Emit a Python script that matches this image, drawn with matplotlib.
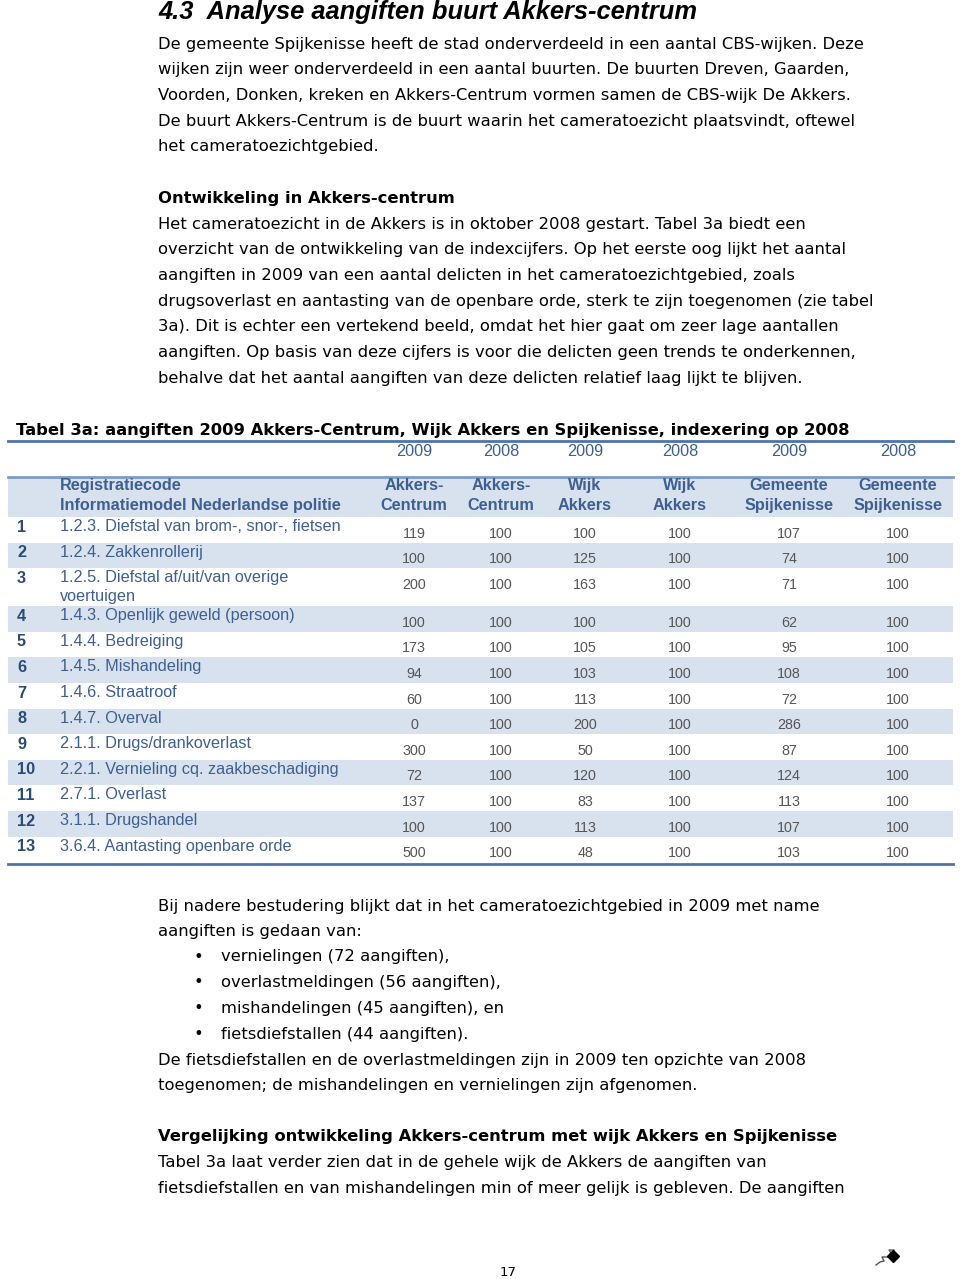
import matplotlib
matplotlib.use("Agg")
import matplotlib.pyplot as plt

# ---- table data (Tabel 3a) ----
row_nrs = ["1", "2", "3", "4", "5", "6", "7", "8", "9", "10", "11", "12", "13"]
row_labels = [
    "1.2.3. Diefstal van brom-, snor-, fietsen",
    "1.2.4. Zakkenrollerij",
    "1.2.5. Diefstal af/uit/van overige\nvoertuigen",
    "1.4.3. Openlijk geweld (persoon)",
    "1.4.4. Bedreiging",
    "1.4.5. Mishandeling",
    "1.4.6. Straatroof",
    "1.4.7. Overval",
    "2.1.1. Drugs/drankoverlast",
    "2.2.1. Vernieling cq. zaakbeschadiging",
    "2.7.1. Overlast",
    "3.1.1. Drugshandel",
    "3.6.4. Aantasting openbare orde",
]
years = ["2009", "2008", "2009", "2008", "2009", "2008"]
col_heads = ["Akkers-\nCentrum", "Akkers-\nCentrum", "Wijk\nAkkers", "Wijk\nAkkers",
             "Gemeente\nSpijkenisse", "Gemeente\nSpijkenisse"]
akkers_c_2009 = [119, 100, 200, 100, 173, 94, 60, 0, 300, 72, 137, 100, 500]
akkers_c_2008 = [100] * 13
wijk_2009 = [100, 125, 163, 100, 105, 103, 113, 200, 50, 120, 83, 113, 48]
wijk_2008 = [100] * 13
spijk_2009 = [107, 74, 71, 62, 95, 108, 72, 286, 87, 124, 113, 107, 103]
spijk_2008 = [100] * 13
columns = [akkers_c_2009, akkers_c_2008, wijk_2009, wijk_2008, spijk_2009, spijk_2008]

# ---- page text ----
title = "4.3  Analyse aangiften buurt Akkers-centrum"
para1 = [
    "De gemeente Spijkenisse heeft de stad onderverdeeld in een aantal CBS-wijken. Deze",
    "wijken zijn weer onderverdeeld in een aantal buurten. De buurten Dreven, Gaarden,",
    "Voorden, Donken, kreken en Akkers-Centrum vormen samen de CBS-wijk De Akkers.",
    "De buurt Akkers-Centrum is de buurt waarin het cameratoezicht plaatsvindt, oftewel",
    "het cameratoezichtgebied.",
]
head2 = "Ontwikkeling in Akkers-centrum"
para2 = [
    "Het cameratoezicht in de Akkers is in oktober 2008 gestart. Tabel 3a biedt een",
    "overzicht van de ontwikkeling van de indexcijfers. Op het eerste oog lijkt het aantal",
    "aangiften in 2009 van een aantal delicten in het cameratoezichtgebied, zoals",
    "drugsoverlast en aantasting van de openbare orde, sterk te zijn toegenomen (zie tabel",
    "3a). Dit is echter een vertekend beeld, omdat het hier gaat om zeer lage aantallen",
    "aangiften. Op basis van deze cijfers is voor die delicten geen trends te onderkennen,",
    "behalve dat het aantal aangiften van deze delicten relatief laag lijkt te blijven.",
]
table_title = "Tabel 3a: aangiften 2009 Akkers-Centrum, Wijk Akkers en Spijkenisse, indexering op 2008"
para3 = [
    "Bij nadere bestudering blijkt dat in het cameratoezichtgebied in 2009 met name",
    "aangiften is gedaan van:",
]
bullets = [
    "vernielingen (72 aangiften),",
    "overlastmeldingen (56 aangiften),",
    "mishandelingen (45 aangiften), en",
    "fietsdiefstallen (44 aangiften).",
]
para4 = [
    "De fietsdiefstallen en de overlastmeldingen zijn in 2009 ten opzichte van 2008",
    "toegenomen; de mishandelingen en vernielingen zijn afgenomen.",
]
head3 = "Vergelijking ontwikkeling Akkers-centrum met wijk Akkers en Spijkenisse"
para5 = [
    "Tabel 3a laat verder zien dat in de gehele wijk de Akkers de aangiften van",
    "fietsdiefstallen en van mishandelingen min of meer gelijk is gebleven. De aangiften",
]

BODY = "DejaVu Sans"
TAB = "Liberation Sans"
BLUE_TXT = "#3d5f91"
BLUE_NR = "#2c4a78"
NUM_C = "#555555"
BAND = "#d8e1ee"
LINE_C = "#4f73a8"
BS = 11.8
LH = 25.7
TS = 11.7

fig = plt.figure(figsize=(9.6, 12.79), dpi=100)
ax = fig.add_axes([0, 0, 1, 1])
ax.set_xlim(0, 960)
ax.set_ylim(1279, 0)
ax.axis("off")


def lines(x, y0, txts, **kw):
    for i, t in enumerate(txts):
        ax.text(x, y0 + i * LH, t, va="center", ha="left", fontfamily=BODY,
                fontsize=BS, color="black", **kw)


ax.text(158, 12, title, fontfamily=TAB, fontsize=18.4, fontweight="bold",
        fontstyle="italic", va="center", ha="left")
lines(158, 44, para1)
lines(158, 198, [head2], fontweight="bold")
lines(158, 224, para2)

# table
ax.text(16, 430, table_title, fontfamily=BODY, fontsize=11.8, fontweight="bold",
        va="center", ha="left")
ax.plot([8, 953], [441, 441], color=LINE_C, lw=2)
col_x = [414, 501, 585, 680, 789, 898]
for cx, yr in zip(col_x, years):
    ax.text(cx, 451, yr, fontfamily=TAB, fontsize=TS, color=BLUE_TXT,
            ha="center", va="center")

ax.plot([8, 953], [477, 477], color="#7f9cc6", lw=2)
ax.fill_between([8, 953], 478, 517, color=BAND, lw=0)
ax.text(60, 495.5, "Registratiecode\nInformatiemodel Nederlandse politie",
        fontfamily=TAB, fontsize=TS, fontweight="bold", color=BLUE_TXT,
        ha="left", va="center", linespacing=1.4)
for cx, h in zip(col_x, col_heads):
    ax.text(cx, 495.5, h, fontfamily=TAB, fontsize=TS, fontweight="bold",
            color=BLUE_TXT, ha="center", va="center", linespacing=1.4)

row_h = [25.6] * 13
row_h[2] = 38.0
top = 517.0
for i in range(13):
    if i % 2 == 1:
        ax.fill_between([8, 953], top, top + row_h[i], color=BAND, lw=0)
    ax.text(17, top + 10, row_nrs[i], fontfamily=TAB, fontsize=TS, fontweight="bold",
            color=BLUE_NR, ha="left", va="center")
    ax.text(60, top + 2, row_labels[i], fontfamily=TAB, fontsize=TS,
            color=BLUE_TXT, ha="left", va="top", linespacing=1.35)
    for cx, col in zip(col_x, columns):
        ax.text(cx, top + 16.5, str(col[i]), fontfamily=TAB, fontsize=10.3,
                color=NUM_C, ha="center", va="center")
    top += row_h[i]
ax.plot([8, 953], [top + 2, top + 2], color=LINE_C, lw=2)

lines(158, 906, para3)
for i, b in enumerate(bullets):
    ax.text(193, 957 + i * LH, "\u2022", fontfamily=BODY, fontsize=BS,
            va="center", ha="left")
lines(221, 957, bullets)
lines(158, 1060, para4)
lines(158, 1137, [head3], fontweight="bold")
lines(158, 1163, para5)

ax.text(508, 1272, "17", fontfamily=BODY, fontsize=9.5, ha="center", va="center")
# small logo
ax.plot([876, 880, 884, 882, 888, 891, 889, 894],
        [1265, 1262, 1261, 1257, 1257, 1253, 1250, 1250], color="#555555", lw=1)
ax.plot([893], [1256], marker="D", color="black", ms=6)

fig.savefig("out.png", dpi=100)
